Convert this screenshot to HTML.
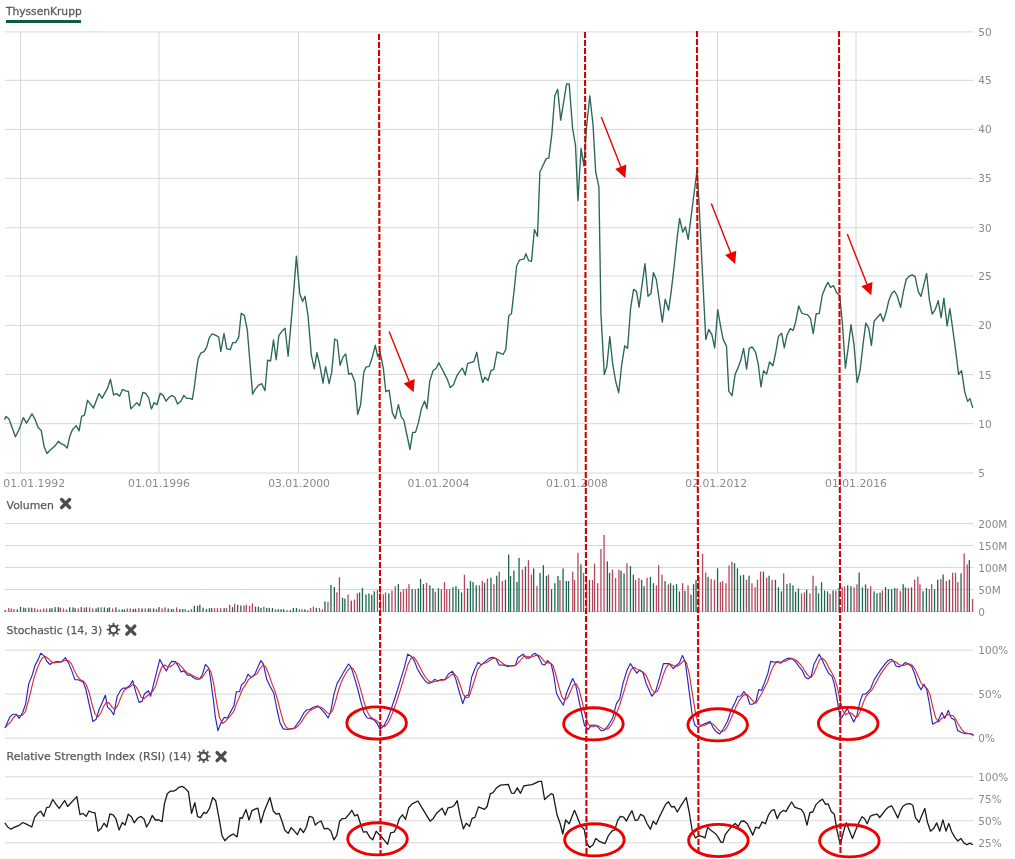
<!DOCTYPE html>
<html><head><meta charset="utf-8"><title>ThyssenKrupp</title>
<style>
html,body{margin:0;padding:0;background:#fff;}
body{width:1015px;height:859px;overflow:hidden;position:relative;font-family:"DejaVu Sans", "Liberation Sans", sans-serif;}
.uline{position:absolute;left:6px;top:20px;width:75px;height:3px;background:#0e5b45;}
svg text{-webkit-font-smoothing:antialiased;}
svg{position:absolute;left:0;top:0;will-change:transform;}
.ax{font-size:10.5px;fill:#8a8a8a;font-family:"DejaVu Sans", "Liberation Sans", sans-serif;}
.tt{font-size:11px;fill:#5a5a5a;stroke:#5a5a5a;stroke-width:0.3px;font-family:"DejaVu Sans", "Liberation Sans", sans-serif;}
.pl{font-size:10.5px;fill:#5a5a5a;stroke:#5a5a5a;stroke-width:0.25px;font-family:"DejaVu Sans", "Liberation Sans", sans-serif;}
</style></head>
<body>
<div class="uline"></div>
<svg width="1015" height="859" viewBox="0 0 1015 859">
<line x1="5" y1="31.9" x2="973.5" y2="31.9" stroke="#d8d8d8" stroke-width="1"/>
<line x1="5" y1="80.3" x2="973.5" y2="80.3" stroke="#d8d8d8" stroke-width="1"/>
<line x1="5" y1="129.4" x2="973.5" y2="129.4" stroke="#d8d8d8" stroke-width="1"/>
<line x1="5" y1="178.4" x2="973.5" y2="178.4" stroke="#d8d8d8" stroke-width="1"/>
<line x1="5" y1="227.7" x2="973.5" y2="227.7" stroke="#d8d8d8" stroke-width="1"/>
<line x1="5" y1="275.9" x2="973.5" y2="275.9" stroke="#d8d8d8" stroke-width="1"/>
<line x1="5" y1="325.4" x2="973.5" y2="325.4" stroke="#d8d8d8" stroke-width="1"/>
<line x1="5" y1="374.5" x2="973.5" y2="374.5" stroke="#d8d8d8" stroke-width="1"/>
<line x1="5" y1="423.7" x2="973.5" y2="423.7" stroke="#d8d8d8" stroke-width="1"/>
<line x1="5" y1="473.0" x2="973.5" y2="473.0" stroke="#d8d8d8" stroke-width="1"/>
<line x1="20.5" y1="32" x2="20.5" y2="473" stroke="#d8d8d8" stroke-width="1"/>
<line x1="159.0" y1="32" x2="159.0" y2="473" stroke="#d8d8d8" stroke-width="1"/>
<line x1="298.5" y1="32" x2="298.5" y2="473" stroke="#d8d8d8" stroke-width="1"/>
<line x1="438.6" y1="32" x2="438.6" y2="473" stroke="#d8d8d8" stroke-width="1"/>
<line x1="577.5" y1="32" x2="577.5" y2="473" stroke="#d8d8d8" stroke-width="1"/>
<line x1="717.5" y1="32" x2="717.5" y2="473" stroke="#d8d8d8" stroke-width="1"/>
<line x1="856.0" y1="32" x2="856.0" y2="473" stroke="#d8d8d8" stroke-width="1"/>
<text x="978.3" y="35.9" class="ax">50</text>
<text x="978.3" y="84.3" class="ax">45</text>
<text x="978.3" y="133.4" class="ax">40</text>
<text x="978.3" y="182.4" class="ax">35</text>
<text x="978.3" y="231.7" class="ax">30</text>
<text x="978.3" y="279.9" class="ax">25</text>
<text x="978.3" y="329.4" class="ax">20</text>
<text x="978.3" y="378.5" class="ax">15</text>
<text x="978.3" y="427.7" class="ax">10</text>
<text x="978.3" y="477.0" class="ax">5</text>
<text x="3.3" y="487" class="ax" textLength="61.8" lengthAdjust="spacingAndGlyphs">01.01.1992</text>
<text x="128.1" y="487" class="ax" textLength="61.8" lengthAdjust="spacingAndGlyphs">01.01.1996</text>
<text x="268.2" y="487" class="ax" textLength="61.8" lengthAdjust="spacingAndGlyphs">03.01.2000</text>
<text x="407.6" y="487" class="ax" textLength="61.8" lengthAdjust="spacingAndGlyphs">01.01.2004</text>
<text x="546.1" y="487" class="ax" textLength="61.8" lengthAdjust="spacingAndGlyphs">01.01.2008</text>
<text x="685.3" y="487" class="ax" textLength="61.8" lengthAdjust="spacingAndGlyphs">02.01.2012</text>
<text x="825.1" y="487" class="ax" textLength="61.8" lengthAdjust="spacingAndGlyphs">01.01.2016</text>
<line x1="5" y1="523.5" x2="973.5" y2="523.5" stroke="#d8d8d8" stroke-width="1"/>
<line x1="5" y1="545.5" x2="973.5" y2="545.5" stroke="#d8d8d8" stroke-width="1"/>
<line x1="5" y1="567.5" x2="973.5" y2="567.5" stroke="#d8d8d8" stroke-width="1"/>
<line x1="5" y1="589.5" x2="973.5" y2="589.5" stroke="#d8d8d8" stroke-width="1"/>
<line x1="5" y1="611.5" x2="973.5" y2="611.5" stroke="#d8d8d8" stroke-width="1"/>
<text x="978.3" y="527.5" class="ax">200M</text>
<text x="978.3" y="549.5" class="ax">150M</text>
<text x="978.3" y="571.5" class="ax">100M</text>
<text x="978.3" y="593.5" class="ax">50M</text>
<text x="978.3" y="615.5" class="ax">0</text>
<line x1="5" y1="650.1" x2="973.5" y2="650.1" stroke="#d8d8d8" stroke-width="1"/>
<line x1="5" y1="694.1" x2="973.5" y2="694.1" stroke="#d8d8d8" stroke-width="1"/>
<line x1="5" y1="738.1" x2="973.5" y2="738.1" stroke="#d8d8d8" stroke-width="1"/>
<text x="978.3" y="654.1" class="ax">100%</text>
<text x="978.3" y="698.1" class="ax">50%</text>
<text x="978.3" y="742.1" class="ax">0%</text>
<line x1="5" y1="776.8" x2="973.5" y2="776.8" stroke="#d8d8d8" stroke-width="1"/>
<line x1="5" y1="798.8" x2="973.5" y2="798.8" stroke="#d8d8d8" stroke-width="1"/>
<line x1="5" y1="820.7" x2="973.5" y2="820.7" stroke="#d8d8d8" stroke-width="1"/>
<line x1="5" y1="842.8" x2="973.5" y2="842.8" stroke="#d8d8d8" stroke-width="1"/>
<text x="978.3" y="780.8" class="ax">100%</text>
<text x="978.3" y="802.8" class="ax">75%</text>
<text x="978.3" y="824.7" class="ax">50%</text>
<text x="978.3" y="846.8" class="ax">25%</text>
<g><rect x="4.5" y="610.0" width="1.3" height="1.9" fill="#1f6550"/><rect x="8.1" y="608.1" width="1.3" height="3.8" fill="#b8475e"/><rect x="10.6" y="608.4" width="1.3" height="3.5" fill="#b8475e"/><rect x="13.2" y="609.0" width="1.3" height="2.9" fill="#b8475e"/><rect x="16.7" y="609.3" width="1.3" height="2.6" fill="#1f6550"/><rect x="19.9" y="606.8" width="1.3" height="5.1" fill="#1f6550"/><rect x="23.1" y="607.7" width="1.3" height="4.2" fill="#1f6550"/><rect x="25.0" y="608.1" width="1.3" height="3.8" fill="#b8475e"/><rect x="28.2" y="607.7" width="1.3" height="4.2" fill="#1f6550"/><rect x="31.1" y="607.7" width="1.3" height="4.2" fill="#1f6550"/><rect x="34.0" y="608.1" width="1.3" height="3.8" fill="#b8475e"/><rect x="36.9" y="609.3" width="1.3" height="2.6" fill="#b8475e"/><rect x="39.8" y="609.3" width="1.3" height="2.6" fill="#b8475e"/><rect x="43.0" y="608.4" width="1.3" height="3.5" fill="#b8475e"/><rect x="45.9" y="608.4" width="1.3" height="3.5" fill="#b8475e"/><rect x="49.1" y="608.4" width="1.3" height="3.5" fill="#1f6550"/><rect x="51.3" y="608.1" width="1.3" height="3.8" fill="#1f6550"/><rect x="54.5" y="607.1" width="1.3" height="4.8" fill="#1f6550"/><rect x="57.7" y="607.1" width="1.3" height="4.8" fill="#1f6550"/><rect x="59.7" y="607.7" width="1.3" height="4.2" fill="#b8475e"/><rect x="62.8" y="608.4" width="1.3" height="3.5" fill="#b8475e"/><rect x="65.9" y="609.3" width="1.3" height="2.6" fill="#b8475e"/><rect x="69.0" y="607.4" width="1.3" height="4.5" fill="#1f6550"/><rect x="72.3" y="607.4" width="1.3" height="4.5" fill="#1f6550"/><rect x="74.5" y="608.1" width="1.3" height="3.8" fill="#1f6550"/><rect x="77.7" y="608.4" width="1.3" height="3.5" fill="#b8475e"/><rect x="80.6" y="607.1" width="1.3" height="4.8" fill="#1f6550"/><rect x="83.7" y="607.7" width="1.3" height="4.2" fill="#b8475e"/><rect x="85.8" y="607.4" width="1.3" height="4.5" fill="#1f6550"/><rect x="89.0" y="607.4" width="1.3" height="4.5" fill="#b8475e"/><rect x="92.0" y="608.4" width="1.3" height="3.5" fill="#b8475e"/><rect x="95.4" y="608.4" width="1.3" height="3.5" fill="#1f6550"/><rect x="97.6" y="607.4" width="1.3" height="4.5" fill="#1f6550"/><rect x="100.5" y="607.4" width="1.3" height="4.5" fill="#b8475e"/><rect x="103.7" y="607.4" width="1.3" height="4.5" fill="#1f6550"/><rect x="106.9" y="608.1" width="1.3" height="3.8" fill="#1f6550"/><rect x="108.8" y="607.4" width="1.3" height="4.5" fill="#1f6550"/><rect x="112.0" y="608.4" width="1.3" height="3.5" fill="#b8475e"/><rect x="115.2" y="607.4" width="1.3" height="4.5" fill="#1f6550"/><rect x="118.5" y="609.3" width="1.3" height="2.6" fill="#b8475e"/><rect x="121.7" y="609.3" width="1.3" height="2.6" fill="#1f6550"/><rect x="123.8" y="609.5" width="1.3" height="2.4" fill="#1f6550"/><rect x="126.6" y="608.4" width="1.3" height="3.5" fill="#b8475e"/><rect x="129.5" y="608.4" width="1.3" height="3.5" fill="#b8475e"/><rect x="132.7" y="609.0" width="1.3" height="2.9" fill="#1f6550"/><rect x="134.9" y="608.7" width="1.3" height="3.2" fill="#1f6550"/><rect x="138.1" y="608.1" width="1.3" height="3.8" fill="#b8475e"/><rect x="141.4" y="608.4" width="1.3" height="3.5" fill="#1f6550"/><rect x="144.6" y="608.4" width="1.3" height="3.5" fill="#b8475e"/><rect x="147.8" y="608.4" width="1.3" height="3.5" fill="#1f6550"/><rect x="149.7" y="608.4" width="1.3" height="3.5" fill="#b8475e"/><rect x="152.9" y="608.4" width="1.3" height="3.5" fill="#1f6550"/><rect x="155.8" y="609.0" width="1.3" height="2.9" fill="#b8475e"/><rect x="158.3" y="607.1" width="1.3" height="4.8" fill="#1f6550"/><rect x="161.5" y="608.4" width="1.3" height="3.5" fill="#b8475e"/><rect x="164.4" y="607.4" width="1.3" height="4.5" fill="#b8475e"/><rect x="167.6" y="608.4" width="1.3" height="3.5" fill="#1f6550"/><rect x="170.8" y="609.0" width="1.3" height="2.9" fill="#1f6550"/><rect x="172.8" y="609.0" width="1.3" height="2.9" fill="#b8475e"/><rect x="176.0" y="607.4" width="1.3" height="4.5" fill="#b8475e"/><rect x="179.2" y="609.0" width="1.3" height="2.9" fill="#1f6550"/><rect x="182.1" y="609.0" width="1.3" height="2.9" fill="#1f6550"/><rect x="184.6" y="609.0" width="1.3" height="2.9" fill="#b8475e"/><rect x="187.8" y="610.4" width="1.3" height="1.5" fill="#1f6550"/><rect x="190.8" y="609.0" width="1.3" height="2.9" fill="#b8475e"/><rect x="193.7" y="605.8" width="1.3" height="6.1" fill="#1f6550"/><rect x="196.9" y="605.8" width="1.3" height="6.1" fill="#1f6550"/><rect x="199.2" y="604.8" width="1.3" height="7.1" fill="#1f6550"/><rect x="202.4" y="607.7" width="1.3" height="4.2" fill="#1f6550"/><rect x="205.8" y="609.0" width="1.3" height="2.9" fill="#1f6550"/><rect x="208.8" y="608.1" width="1.3" height="3.8" fill="#1f6550"/><rect x="211.0" y="608.1" width="1.3" height="3.8" fill="#1f6550"/><rect x="213.9" y="608.1" width="1.3" height="3.8" fill="#b8475e"/><rect x="216.8" y="608.1" width="1.3" height="3.8" fill="#b8475e"/><rect x="220.0" y="608.1" width="1.3" height="3.8" fill="#b8475e"/><rect x="223.5" y="608.1" width="1.3" height="3.8" fill="#1f6550"/><rect x="225.8" y="608.1" width="1.3" height="3.8" fill="#b8475e"/><rect x="229.0" y="604.8" width="1.3" height="7.1" fill="#b8475e"/><rect x="231.9" y="607.1" width="1.3" height="4.8" fill="#1f6550"/><rect x="234.0" y="603.9" width="1.3" height="8.0" fill="#b8475e"/><rect x="237.0" y="604.8" width="1.3" height="7.1" fill="#1f6550"/><rect x="240.2" y="605.5" width="1.3" height="6.4" fill="#1f6550"/><rect x="243.4" y="605.5" width="1.3" height="6.4" fill="#b8475e"/><rect x="245.7" y="604.8" width="1.3" height="7.1" fill="#b8475e"/><rect x="248.9" y="605.8" width="1.3" height="6.1" fill="#b8475e"/><rect x="251.7" y="603.4" width="1.3" height="8.5" fill="#b8475e"/><rect x="254.8" y="606.6" width="1.3" height="5.3" fill="#1f6550"/><rect x="257.7" y="606.6" width="1.3" height="5.3" fill="#1f6550"/><rect x="260.3" y="607.9" width="1.3" height="4.0" fill="#1f6550"/><rect x="263.2" y="606.6" width="1.3" height="5.3" fill="#b8475e"/><rect x="266.0" y="607.9" width="1.3" height="4.0" fill="#1f6550"/><rect x="268.6" y="607.9" width="1.3" height="4.0" fill="#1f6550"/><rect x="271.8" y="607.9" width="1.3" height="4.0" fill="#1f6550"/><rect x="274.8" y="609.2" width="1.3" height="2.7" fill="#b8475e"/><rect x="277.6" y="609.2" width="1.3" height="2.7" fill="#1f6550"/><rect x="280.4" y="609.2" width="1.3" height="2.7" fill="#1f6550"/><rect x="283.0" y="609.2" width="1.3" height="2.7" fill="#1f6550"/><rect x="286.3" y="610.1" width="1.3" height="1.8" fill="#b8475e"/><rect x="289.7" y="610.1" width="1.3" height="1.8" fill="#1f6550"/><rect x="292.7" y="607.9" width="1.3" height="4.0" fill="#1f6550"/><rect x="295.8" y="607.9" width="1.3" height="4.0" fill="#1f6550"/><rect x="298.7" y="609.2" width="1.3" height="2.7" fill="#b8475e"/><rect x="301.3" y="609.2" width="1.3" height="2.7" fill="#b8475e"/><rect x="304.2" y="609.2" width="1.3" height="2.7" fill="#1f6550"/><rect x="307.0" y="610.1" width="1.3" height="1.8" fill="#b8475e"/><rect x="309.9" y="607.9" width="1.3" height="4.0" fill="#b8475e"/><rect x="312.8" y="606.6" width="1.3" height="5.3" fill="#b8475e"/><rect x="315.7" y="607.9" width="1.3" height="4.0" fill="#1f6550"/><rect x="318.8" y="607.9" width="1.3" height="4.0" fill="#b8475e"/><rect x="321.8" y="609.2" width="1.3" height="2.7" fill="#b8475e"/><rect x="324.3" y="601.5" width="1.3" height="10.4" fill="#1f6550"/><rect x="327.3" y="601.9" width="1.3" height="10.0" fill="#b8475e"/><rect x="330.3" y="584.9" width="1.3" height="27.0" fill="#1f6550"/><rect x="333.7" y="587.0" width="1.3" height="24.9" fill="#1f6550"/><rect x="336.2" y="592.2" width="1.3" height="19.7" fill="#b8475e"/><rect x="338.8" y="577.2" width="1.3" height="34.7" fill="#b8475e"/><rect x="341.9" y="597.7" width="1.3" height="14.2" fill="#1f6550"/><rect x="344.2" y="598.6" width="1.3" height="13.3" fill="#1f6550"/><rect x="347.4" y="594.5" width="1.3" height="17.4" fill="#b8475e"/><rect x="350.6" y="600.6" width="1.3" height="11.3" fill="#1f6550"/><rect x="353.8" y="599.6" width="1.3" height="12.3" fill="#b8475e"/><rect x="356.7" y="593.4" width="1.3" height="18.5" fill="#b8475e"/><rect x="358.9" y="592.5" width="1.3" height="19.4" fill="#1f6550"/><rect x="361.8" y="588.1" width="1.3" height="23.8" fill="#1f6550"/><rect x="365.3" y="594.5" width="1.3" height="17.4" fill="#1f6550"/><rect x="368.3" y="593.4" width="1.3" height="18.5" fill="#1f6550"/><rect x="371.1" y="594.7" width="1.3" height="17.2" fill="#1f6550"/><rect x="373.6" y="591.3" width="1.3" height="20.6" fill="#1f6550"/><rect x="376.8" y="590.0" width="1.3" height="21.9" fill="#b8475e"/><rect x="379.7" y="592.0" width="1.3" height="19.9" fill="#b8475e"/><rect x="382.7" y="594.3" width="1.3" height="17.6" fill="#b8475e"/><rect x="384.9" y="592.4" width="1.3" height="19.5" fill="#b8475e"/><rect x="388.2" y="593.4" width="1.3" height="18.5" fill="#1f6550"/><rect x="391.3" y="590.5" width="1.3" height="21.4" fill="#b8475e"/><rect x="394.6" y="586.2" width="1.3" height="25.7" fill="#b8475e"/><rect x="397.7" y="584.1" width="1.3" height="27.8" fill="#1f6550"/><rect x="400.0" y="591.7" width="1.3" height="20.2" fill="#b8475e"/><rect x="402.8" y="589.2" width="1.3" height="22.7" fill="#b8475e"/><rect x="405.8" y="588.5" width="1.3" height="23.4" fill="#b8475e"/><rect x="408.3" y="584.1" width="1.3" height="27.8" fill="#b8475e"/><rect x="411.5" y="589.2" width="1.3" height="22.7" fill="#1f6550"/><rect x="414.7" y="589.2" width="1.3" height="22.7" fill="#b8475e"/><rect x="417.7" y="588.5" width="1.3" height="23.4" fill="#1f6550"/><rect x="419.9" y="578.9" width="1.3" height="33.0" fill="#1f6550"/><rect x="422.8" y="584.1" width="1.3" height="27.8" fill="#1f6550"/><rect x="425.9" y="582.8" width="1.3" height="29.1" fill="#b8475e"/><rect x="429.2" y="585.3" width="1.3" height="26.6" fill="#1f6550"/><rect x="432.3" y="588.3" width="1.3" height="23.6" fill="#1f6550"/><rect x="434.6" y="591.7" width="1.3" height="20.2" fill="#b8475e"/><rect x="437.8" y="588.3" width="1.3" height="23.6" fill="#1f6550"/><rect x="440.7" y="589.2" width="1.3" height="22.7" fill="#b8475e"/><rect x="443.8" y="582.1" width="1.3" height="29.8" fill="#b8475e"/><rect x="446.1" y="589.2" width="1.3" height="22.7" fill="#b8475e"/><rect x="448.9" y="589.2" width="1.3" height="22.7" fill="#b8475e"/><rect x="452.3" y="587.3" width="1.3" height="24.6" fill="#1f6550"/><rect x="455.3" y="586.2" width="1.3" height="25.7" fill="#1f6550"/><rect x="457.9" y="589.2" width="1.3" height="22.7" fill="#1f6550"/><rect x="460.9" y="592.4" width="1.3" height="19.5" fill="#1f6550"/><rect x="463.8" y="574.7" width="1.3" height="37.2" fill="#b8475e"/><rect x="466.9" y="588.5" width="1.3" height="23.4" fill="#1f6550"/><rect x="469.8" y="580.9" width="1.3" height="31.0" fill="#1f6550"/><rect x="472.4" y="582.1" width="1.3" height="29.8" fill="#1f6550"/><rect x="475.6" y="585.3" width="1.3" height="26.6" fill="#1f6550"/><rect x="478.8" y="585.3" width="1.3" height="26.6" fill="#b8475e"/><rect x="481.7" y="580.9" width="1.3" height="31.0" fill="#b8475e"/><rect x="483.9" y="582.8" width="1.3" height="29.1" fill="#1f6550"/><rect x="486.8" y="578.6" width="1.3" height="33.3" fill="#b8475e"/><rect x="490.3" y="577.7" width="1.3" height="34.2" fill="#1f6550"/><rect x="493.3" y="584.1" width="1.3" height="27.8" fill="#b8475e"/><rect x="496.1" y="575.7" width="1.3" height="36.2" fill="#1f6550"/><rect x="498.6" y="571.6" width="1.3" height="40.3" fill="#b8475e"/><rect x="501.7" y="581.0" width="1.3" height="30.9" fill="#b8475e"/><rect x="504.8" y="579.7" width="1.3" height="32.2" fill="#1f6550"/><rect x="508.0" y="554.6" width="1.3" height="57.3" fill="#1f6550"/><rect x="509.9" y="575.9" width="1.3" height="36.0" fill="#1f6550"/><rect x="513.2" y="570.7" width="1.3" height="41.2" fill="#1f6550"/><rect x="516.3" y="581.9" width="1.3" height="30.0" fill="#1f6550"/><rect x="518.4" y="557.9" width="1.3" height="54.0" fill="#1f6550"/><rect x="521.8" y="569.4" width="1.3" height="42.5" fill="#b8475e"/><rect x="524.8" y="566.5" width="1.3" height="45.4" fill="#1f6550"/><rect x="527.8" y="560.1" width="1.3" height="51.8" fill="#b8475e"/><rect x="530.8" y="574.6" width="1.3" height="37.3" fill="#b8475e"/><rect x="533.0" y="568.4" width="1.3" height="43.5" fill="#1f6550"/><rect x="536.3" y="586.1" width="1.3" height="25.8" fill="#b8475e"/><rect x="539.4" y="572.9" width="1.3" height="39.0" fill="#1f6550"/><rect x="542.7" y="565.2" width="1.3" height="46.7" fill="#1f6550"/><rect x="545.8" y="575.9" width="1.3" height="36.0" fill="#1f6550"/><rect x="547.8" y="574.6" width="1.3" height="37.3" fill="#b8475e"/><rect x="550.9" y="589.2" width="1.3" height="22.7" fill="#1f6550"/><rect x="554.2" y="583.2" width="1.3" height="28.7" fill="#1f6550"/><rect x="557.3" y="575.9" width="1.3" height="36.0" fill="#1f6550"/><rect x="559.3" y="580.2" width="1.3" height="31.7" fill="#b8475e"/><rect x="562.4" y="568.4" width="1.3" height="43.5" fill="#1f6550"/><rect x="565.7" y="581.0" width="1.3" height="30.9" fill="#1f6550"/><rect x="567.9" y="581.0" width="1.3" height="30.9" fill="#1f6550"/><rect x="572.1" y="571.6" width="1.3" height="40.3" fill="#b8475e"/><rect x="573.9" y="580.0" width="1.3" height="31.9" fill="#b8475e"/><rect x="577.3" y="552.8" width="1.3" height="59.1" fill="#b8475e"/><rect x="580.3" y="564.3" width="1.3" height="47.6" fill="#1f6550"/><rect x="582.9" y="572.9" width="1.3" height="39.0" fill="#b8475e"/><rect x="585.8" y="576.0" width="1.3" height="35.9" fill="#b8475e"/><rect x="588.8" y="580.0" width="1.3" height="31.9" fill="#1f6550"/><rect x="591.9" y="580.0" width="1.3" height="31.9" fill="#b8475e"/><rect x="593.9" y="563.6" width="1.3" height="48.3" fill="#b8475e"/><rect x="597.0" y="583.2" width="1.3" height="28.7" fill="#b8475e"/><rect x="600.3" y="549.0" width="1.3" height="62.9" fill="#b8475e"/><rect x="603.4" y="534.9" width="1.3" height="77.0" fill="#b8475e"/><rect x="606.7" y="561.4" width="1.3" height="50.5" fill="#1f6550"/><rect x="608.9" y="572.9" width="1.3" height="39.0" fill="#1f6550"/><rect x="611.8" y="569.7" width="1.3" height="42.2" fill="#b8475e"/><rect x="614.9" y="578.0" width="1.3" height="33.9" fill="#b8475e"/><rect x="618.3" y="569.7" width="1.3" height="42.2" fill="#b8475e"/><rect x="620.4" y="570.7" width="1.3" height="41.2" fill="#1f6550"/><rect x="623.4" y="573.5" width="1.3" height="38.4" fill="#1f6550"/><rect x="626.3" y="563.2" width="1.3" height="48.7" fill="#b8475e"/><rect x="629.8" y="566.1" width="1.3" height="45.8" fill="#1f6550"/><rect x="632.7" y="574.7" width="1.3" height="37.2" fill="#1f6550"/><rect x="634.9" y="579.8" width="1.3" height="32.1" fill="#b8475e"/><rect x="638.2" y="578.0" width="1.3" height="33.9" fill="#b8475e"/><rect x="641.0" y="579.8" width="1.3" height="32.1" fill="#1f6550"/><rect x="643.4" y="586.2" width="1.3" height="25.7" fill="#1f6550"/><rect x="646.4" y="577.7" width="1.3" height="34.2" fill="#b8475e"/><rect x="649.8" y="576.8" width="1.3" height="35.1" fill="#1f6550"/><rect x="652.8" y="583.2" width="1.3" height="28.7" fill="#1f6550"/><rect x="655.8" y="585.3" width="1.3" height="26.6" fill="#b8475e"/><rect x="658.0" y="565.2" width="1.3" height="46.7" fill="#b8475e"/><rect x="661.3" y="574.7" width="1.3" height="37.2" fill="#b8475e"/><rect x="664.4" y="581.1" width="1.3" height="30.8" fill="#1f6550"/><rect x="667.7" y="584.4" width="1.3" height="27.5" fill="#b8475e"/><rect x="669.9" y="583.2" width="1.3" height="28.7" fill="#1f6550"/><rect x="672.8" y="585.3" width="1.3" height="26.6" fill="#1f6550"/><rect x="675.9" y="584.1" width="1.3" height="27.8" fill="#1f6550"/><rect x="678.8" y="591.4" width="1.3" height="20.5" fill="#1f6550"/><rect x="682.0" y="583.2" width="1.3" height="28.7" fill="#b8475e"/><rect x="684.3" y="590.9" width="1.3" height="21.0" fill="#1f6550"/><rect x="687.4" y="585.3" width="1.3" height="26.6" fill="#b8475e"/><rect x="690.4" y="594.7" width="1.3" height="17.2" fill="#1f6550"/><rect x="692.9" y="584.1" width="1.3" height="27.8" fill="#1f6550"/><rect x="695.4" y="580.0" width="1.3" height="31.9" fill="#1f6550"/><rect x="698.3" y="576.4" width="1.3" height="35.5" fill="#b8475e"/><rect x="701.9" y="553.7" width="1.3" height="58.2" fill="#b8475e"/><rect x="705.1" y="572.5" width="1.3" height="39.4" fill="#b8475e"/><rect x="707.4" y="576.8" width="1.3" height="35.1" fill="#1f6550"/><rect x="710.5" y="578.9" width="1.3" height="33.0" fill="#b8475e"/><rect x="713.8" y="579.8" width="1.3" height="32.1" fill="#b8475e"/><rect x="716.9" y="568.3" width="1.3" height="43.6" fill="#1f6550"/><rect x="719.8" y="582.1" width="1.3" height="29.8" fill="#b8475e"/><rect x="722.0" y="581.1" width="1.3" height="30.8" fill="#b8475e"/><rect x="725.3" y="583.2" width="1.3" height="28.7" fill="#b8475e"/><rect x="728.4" y="565.5" width="1.3" height="46.4" fill="#b8475e"/><rect x="731.3" y="561.9" width="1.3" height="50.0" fill="#b8475e"/><rect x="733.9" y="563.2" width="1.3" height="48.7" fill="#1f6550"/><rect x="736.8" y="568.3" width="1.3" height="43.6" fill="#1f6550"/><rect x="739.9" y="575.5" width="1.3" height="36.4" fill="#1f6550"/><rect x="742.9" y="574.7" width="1.3" height="37.2" fill="#1f6550"/><rect x="745.8" y="579.8" width="1.3" height="32.1" fill="#b8475e"/><rect x="748.4" y="575.7" width="1.3" height="36.2" fill="#1f6550"/><rect x="751.3" y="583.2" width="1.3" height="28.7" fill="#b8475e"/><rect x="754.5" y="587.3" width="1.3" height="24.6" fill="#b8475e"/><rect x="756.8" y="579.8" width="1.3" height="32.1" fill="#b8475e"/><rect x="759.9" y="571.6" width="1.3" height="40.3" fill="#b8475e"/><rect x="762.8" y="571.6" width="1.3" height="40.3" fill="#1f6550"/><rect x="766.0" y="577.7" width="1.3" height="34.2" fill="#b8475e"/><rect x="768.4" y="575.7" width="1.3" height="36.2" fill="#1f6550"/><rect x="771.4" y="579.8" width="1.3" height="32.1" fill="#b8475e"/><rect x="774.8" y="579.8" width="1.3" height="32.1" fill="#1f6550"/><rect x="777.8" y="587.3" width="1.3" height="24.6" fill="#1f6550"/><rect x="780.8" y="591.4" width="1.3" height="20.5" fill="#1f6550"/><rect x="783.0" y="573.4" width="1.3" height="38.5" fill="#b8475e"/><rect x="786.3" y="584.1" width="1.3" height="27.8" fill="#1f6550"/><rect x="789.4" y="583.2" width="1.3" height="28.7" fill="#1f6550"/><rect x="792.3" y="585.3" width="1.3" height="26.6" fill="#1f6550"/><rect x="794.9" y="591.7" width="1.3" height="20.2" fill="#1f6550"/><rect x="797.8" y="588.5" width="1.3" height="23.4" fill="#1f6550"/><rect x="800.9" y="593.4" width="1.3" height="18.5" fill="#b8475e"/><rect x="803.8" y="592.4" width="1.3" height="19.5" fill="#b8475e"/><rect x="806.0" y="589.6" width="1.3" height="22.3" fill="#1f6550"/><rect x="809.3" y="593.4" width="1.3" height="18.5" fill="#b8475e"/><rect x="812.4" y="575.7" width="1.3" height="36.2" fill="#b8475e"/><rect x="815.4" y="586.2" width="1.3" height="25.7" fill="#1f6550"/><rect x="817.9" y="593.4" width="1.3" height="18.5" fill="#1f6550"/><rect x="820.9" y="582.1" width="1.3" height="29.8" fill="#1f6550"/><rect x="823.9" y="590.5" width="1.3" height="21.4" fill="#1f6550"/><rect x="826.9" y="591.4" width="1.3" height="20.5" fill="#1f6550"/><rect x="829.4" y="593.7" width="1.3" height="18.2" fill="#b8475e"/><rect x="832.4" y="590.5" width="1.3" height="21.4" fill="#1f6550"/><rect x="835.2" y="590.5" width="1.3" height="21.4" fill="#b8475e"/><rect x="838.4" y="588.0" width="1.3" height="23.9" fill="#1f6550"/><rect x="841.6" y="587.3" width="1.3" height="24.6" fill="#b8475e"/><rect x="843.9" y="586.2" width="1.3" height="25.7" fill="#b8475e"/><rect x="847.0" y="585.3" width="1.3" height="26.6" fill="#1f6550"/><rect x="850.3" y="586.2" width="1.3" height="25.7" fill="#1f6550"/><rect x="853.4" y="587.3" width="1.3" height="24.6" fill="#b8475e"/><rect x="856.3" y="584.4" width="1.3" height="27.5" fill="#b8475e"/><rect x="858.5" y="572.5" width="1.3" height="39.4" fill="#1f6550"/><rect x="861.8" y="587.3" width="1.3" height="24.6" fill="#1f6550"/><rect x="864.9" y="584.4" width="1.3" height="27.5" fill="#1f6550"/><rect x="867.0" y="588.5" width="1.3" height="23.4" fill="#b8475e"/><rect x="870.0" y="586.2" width="1.3" height="25.7" fill="#b8475e"/><rect x="873.4" y="591.4" width="1.3" height="20.5" fill="#1f6550"/><rect x="876.3" y="593.3" width="1.3" height="18.6" fill="#1f6550"/><rect x="879.4" y="592.6" width="1.3" height="19.3" fill="#1f6550"/><rect x="881.7" y="590.5" width="1.3" height="21.4" fill="#b8475e"/><rect x="884.9" y="587.1" width="1.3" height="24.8" fill="#1f6550"/><rect x="887.8" y="589.2" width="1.3" height="22.7" fill="#1f6550"/><rect x="891.0" y="589.2" width="1.3" height="22.7" fill="#1f6550"/><rect x="894.1" y="588.1" width="1.3" height="23.8" fill="#1f6550"/><rect x="896.4" y="588.4" width="1.3" height="23.5" fill="#b8475e"/><rect x="899.6" y="591.2" width="1.3" height="20.7" fill="#b8475e"/><rect x="902.5" y="584.2" width="1.3" height="27.7" fill="#1f6550"/><rect x="904.8" y="587.4" width="1.3" height="24.5" fill="#1f6550"/><rect x="907.7" y="588.1" width="1.3" height="23.8" fill="#b8475e"/><rect x="910.9" y="587.4" width="1.3" height="24.5" fill="#1f6550"/><rect x="914.0" y="579.7" width="1.3" height="32.2" fill="#b8475e"/><rect x="917.2" y="576.6" width="1.3" height="35.3" fill="#b8475e"/><rect x="919.3" y="584.2" width="1.3" height="27.7" fill="#b8475e"/><rect x="922.4" y="591.2" width="1.3" height="20.7" fill="#1f6550"/><rect x="925.8" y="588.1" width="1.3" height="23.8" fill="#1f6550"/><rect x="928.7" y="589.2" width="1.3" height="22.7" fill="#b8475e"/><rect x="931.0" y="584.2" width="1.3" height="27.7" fill="#b8475e"/><rect x="933.9" y="589.2" width="1.3" height="22.7" fill="#1f6550"/><rect x="937.1" y="579.7" width="1.3" height="32.2" fill="#1f6550"/><rect x="940.2" y="579.0" width="1.3" height="32.9" fill="#b8475e"/><rect x="942.5" y="574.5" width="1.3" height="37.4" fill="#1f6550"/><rect x="945.7" y="581.1" width="1.3" height="30.8" fill="#b8475e"/><rect x="948.8" y="579.7" width="1.3" height="32.2" fill="#1f6550"/><rect x="952.0" y="572.7" width="1.3" height="39.2" fill="#b8475e"/><rect x="954.9" y="572.7" width="1.3" height="39.2" fill="#b8475e"/><rect x="957.2" y="582.1" width="1.3" height="29.8" fill="#b8475e"/><rect x="960.4" y="573.4" width="1.3" height="38.5" fill="#1f6550"/><rect x="963.5" y="553.5" width="1.3" height="58.4" fill="#b8475e"/><rect x="966.6" y="564.3" width="1.3" height="47.6" fill="#b8475e"/><rect x="968.7" y="560.1" width="1.3" height="51.8" fill="#1f6550"/><rect x="971.9" y="598.9" width="1.3" height="13.0" fill="#b8475e"/></g>
<polyline points="4.5,419.6 6.1,416.4 9.0,418.9 15.4,436.8 19.2,429.2 23.4,417.6 26.5,423.1 32.0,413.8 35.2,419.6 38.0,427.2 41.2,430.4 44.2,447.1 47.0,453.5 50.0,450.3 55.1,445.8 58.3,441.3 61.5,443.9 64.0,444.9 67.2,448.1 69.8,436.2 72.4,429.8 76.2,425.6 79.1,430.8 81.6,416.4 84.5,415.1 87.5,400.3 93.5,408.0 99.0,393.6 102.1,398.2 107.6,388.2 110.4,379.2 113.6,394.8 116.5,393.6 119.7,396.1 122.5,389.4 125.6,390.8 128.4,391.5 130.9,408.9 136.8,402.6 139.5,405.8 142.8,392.4 145.8,393.5 148.6,397.7 151.4,408.9 154.2,402.6 157.0,404.7 160.2,393.3 163.3,395.6 166.1,401.2 168.9,397.5 171.9,395.4 174.7,397.0 177.5,404.0 181.2,400.8 183.9,395.4 186.7,398.4 189.5,398.4 192.3,399.4 194.0,389.4 196.5,369.8 198.2,358.6 201.0,352.8 204.1,351.7 206.8,346.8 209.4,337.4 212.2,333.8 216.3,335.6 218.7,337.0 220.8,351.4 224.0,333.5 226.8,348.9 230.3,349.6 232.8,342.6 235.6,342.6 238.7,337.4 241.2,313.3 244.3,315.4 247.3,330.0 249.6,358.3 252.6,394.2 254.9,389.8 258.3,385.4 261.8,383.7 265.0,390.7 267.6,360.1 270.6,361.0 273.5,340.0 276.2,359.7 278.8,335.6 281.9,331.3 285.1,328.3 288.1,356.2 291.0,323.4 293.8,290.2 296.4,256.1 299.8,293.7 302.6,301.5 305.0,296.3 308.1,316.4 311.3,354.8 314.3,368.8 316.9,352.7 319.5,363.6 323.0,383.1 325.6,366.7 329.1,383.7 331.7,372.3 334.7,339.1 337.3,340.5 340.1,365.3 343.1,356.9 345.7,354.0 348.7,374.4 351.5,373.2 354.9,381.9 357.7,414.5 360.6,404.7 363.8,372.1 366.0,367.2 369.2,366.4 372.0,358.3 375.3,345.3 377.7,356.7 380.1,351.8 383.4,368.9 385.8,391.7 389.1,390.1 392.4,412.9 395.3,418.6 398.4,404.7 401.3,416.9 403.8,420.2 406.7,434.0 410.0,449.5 412.7,432.4 415.5,432.4 418.4,422.6 421.4,408.8 424.6,401.1 426.9,408.8 429.8,381.1 433.1,370.5 436.0,368.5 438.8,362.7 443.7,372.1 447.4,379.5 450.2,387.6 453.5,384.8 456.7,376.2 459.5,371.8 462.4,368.1 465.2,375.1 467.6,363.7 470.6,362.7 473.8,361.5 476.8,352.3 479.3,367.9 482.7,382.4 484.9,377.2 488.1,380.5 490.9,370.7 493.8,369.4 497.0,352.0 500.7,353.3 503.2,354.5 505.8,349.2 508.8,315.7 511.4,313.8 513.8,293.3 516.6,266.3 519.4,260.2 522.2,259.4 524.0,258.9 525.9,253.8 528.7,260.7 531.5,261.3 534.4,229.5 537.5,236.4 539.9,172.0 546.2,158.6 548.8,158.2 551.8,134.4 554.8,95.8 557.7,89.3 560.7,120.1 563.7,101.7 566.6,83.9 569.2,83.9 572.6,128.5 575.5,145.3 577.9,200.7 581.1,148.3 583.9,166.1 586.4,128.5 589.8,95.8 593.0,124.5 595.7,172.0 598.9,186.9 600.9,313.2 604.3,374.6 606.8,366.6 609.8,336.5 612.8,364.7 615.7,381.5 618.7,392.8 621.7,364.7 624.7,345.8 627.6,348.4 630.6,308.2 633.6,289.4 636.5,291.4 639.1,307.2 641.9,285.8 645.0,263.7 648.0,296.3 651.0,293.4 653.4,272.6 656.3,279.5 659.3,300.3 662.3,322.1 665.2,299.3 668.6,310.2 671.2,291.4 674.2,265.6 677.1,237.9 679.6,218.5 682.7,232.1 685.4,226.9 688.2,239.4 697.0,170.5 699.0,202.4 702.3,270.0 703.8,300.3 705.8,339.6 708.8,329.3 711.8,334.3 714.7,347.9 717.7,309.6 720.4,325.2 723.0,338.9 726.5,346.4 728.8,391.1 732.1,395.6 735.1,374.4 737.8,368.4 740.6,360.8 743.6,348.4 746.6,369.1 749.2,348.4 752.2,346.9 755.7,352.5 758.3,364.6 761.0,386.8 763.6,370.6 766.6,374.1 769.6,361.9 772.9,365.8 775.7,352.5 778.4,336.6 781.7,333.3 784.3,347.9 787.0,335.1 790.3,328.6 793.1,330.5 795.6,322.2 798.7,306.0 801.7,313.1 804.4,314.2 807.4,314.6 810.5,318.4 813.2,333.6 816.2,313.6 819.2,313.6 822.3,295.0 825.3,287.4 827.9,282.4 830.6,287.5 833.6,285.7 836.6,292.5 839.7,295.5 842.4,323.5 845.4,368.1 848.0,349.2 851.0,324.7 854.0,344.7 857.1,382.5 860.1,370.4 863.1,343.9 865.8,323.2 868.7,328.1 871.4,345.4 874.1,321.2 877.2,317.5 880.5,313.7 883.2,321.2 886.1,312.2 888.8,300.5 891.8,293.3 894.4,291.0 897.1,295.5 900.6,307.4 903.4,291.6 906.2,279.5 909.0,276.4 912.1,274.9 915.1,276.7 918.3,291.6 921.0,296.3 926.6,273.4 929.4,300.0 932.2,314.0 935.0,310.2 938.2,300.6 941.1,317.7 943.9,298.1 947.1,326.0 949.9,308.7 952.7,328.8 955.5,349.3 958.6,374.4 961.6,370.7 964.8,392.1 967.6,401.4 970.0,398.6 972.8,407.9" fill="none" stroke="#2a6756" stroke-width="1.35" stroke-linejoin="round"/>
<polyline points="4.9,728.0 9.6,717.4 12.8,714.2 16.0,714.2 19.2,718.3 22.8,712.2 25.6,703.9 28.8,683.4 32.0,675.7 35.2,664.9 38.4,659.1 40.7,653.3 44.2,655.9 46.7,661.0 49.9,664.5 52.5,662.7 56.4,661.6 61.5,661.9 65.3,657.6 68.5,662.9 71.7,670.6 74.9,679.6 78.1,679.8 83.2,682.1 85.8,689.2 89.7,706.5 92.9,721.6 96.1,719.3 99.3,709.0 102.5,702.0 105.3,695.2 107.6,707.1 110.8,710.3 113.7,714.8 117.2,696.2 121.0,689.8 123.6,687.9 125.0,688.5 129.5,686.0 132.7,680.6 135.9,692.4 139.1,702.4 142.3,701.1 144.2,694.3 148.4,690.7 150.6,696.2 153.8,683.4 157.0,670.6 159.8,659.3 163.2,666.1 166.4,670.9 169.2,664.9 171.7,661.4 175.6,661.6 178.2,666.1 181.1,671.9 183.9,670.9 187.5,675.1 190.3,675.1 193.5,677.7 196.7,679.3 199.9,678.9 202.5,674.2 205.4,664.5 208.9,668.1 210.8,680.9 213.4,700.1 215.3,716.7 217.9,730.6 221.1,722.5 224.3,717.4 227.5,718.0 230.7,711.6 233.9,705.8 236.4,691.7 239.6,691.7 241.5,684.7 244.7,682.1 248.0,674.2 251.2,677.7 255.1,673.8 257.7,667.4 260.9,660.6 263.4,664.2 266.6,678.9 269.9,686.0 273.7,693.0 276.9,709.0 280.1,723.1 283.3,728.9 287.8,729.5 294.2,728.0 299.3,721.2 303.8,712.9 307.0,709.7 309.6,709.7 312.8,707.5 317.9,705.8 321.7,709.7 325.6,714.2 328.1,718.0 330.7,711.6 333.9,694.3 337.1,683.4 340.9,677.0 344.8,670.0 348.6,664.0 351.2,667.4 354.4,677.7 357.6,688.5 360.8,701.4 364.0,712.9 367.2,718.0 371.0,718.6 374.9,720.6 377.6,724.4 380.1,729.5 384.0,725.7 387.8,718.0 391.6,707.8 396.1,694.3 400.6,679.6 404.5,666.8 407.7,654.2 411.5,656.5 414.7,661.6 417.3,668.7 421.1,675.1 425.6,681.5 428.8,683.4 432.0,682.1 434.6,679.3 437.8,681.1 441.0,679.6 444.8,679.8 448.6,673.8 452.5,671.3 455.7,678.9 458.9,690.5 462.7,703.7 465.3,696.2 468.5,695.0 471.7,677.0 474.9,668.7 478.1,662.3 481.3,664.9 485.1,661.6 489.0,658.4 492.8,657.2 496.0,658.8 499.2,664.9 503.8,665.2 507.7,666.5 512.2,665.7 515.4,665.2 517.9,657.8 523.1,654.2 526.3,658.1 529.5,658.1 532.7,654.6 535.2,653.3 538.4,656.5 542.3,664.5 544.8,664.9 547.6,660.6 551.2,664.2 553.8,675.7 556.4,693.0 559.6,699.4 563.4,705.2 566.6,693.0 569.8,685.3 572.7,678.6 575.6,684.7 578.1,696.2 581.3,711.6 584.5,725.4 588.4,729.5 590.9,725.4 594.8,725.0 598.0,727.0 601.2,730.8 604.4,730.2 608.2,725.7 612.7,718.0 616.5,703.3 619.7,698.8 623.0,683.4 626.9,670.6 630.4,663.6 633.7,668.7 636.8,673.2 639.7,670.0 642.9,672.5 646.1,683.4 649.3,690.5 651.9,696.2 655.7,691.1 659.6,677.7 663.4,663.6 669.2,663.6 673.4,668.7 676.2,665.5 679.4,662.9 682.4,655.5 685.2,661.6 687.8,680.9 690.3,700.1 692.2,714.8 694.8,725.0 698.0,727.6 701.8,725.0 705.7,723.4 710.2,721.6 713.4,728.2 716.6,732.1 719.8,734.0 723.6,728.2 727.5,721.2 731.3,709.7 734.5,703.9 737.7,696.2 740.9,696.0 743.9,691.7 747.3,696.2 749.9,704.2 752.6,704.2 755.8,702.0 758.7,689.6 761.5,690.5 764.7,682.1 767.9,673.2 770.7,661.4 774.3,662.3 777.5,661.6 780.5,663.2 783.6,660.4 787.1,658.4 791.6,658.4 795.5,661.6 799.3,666.8 802.3,670.6 805.1,677.0 808.3,678.9 811.2,676.4 814.0,664.2 819.2,654.2 822.4,660.4 825.6,667.4 828.8,673.4 832.0,676.4 834.5,684.7 837.7,702.6 840.3,719.3 843.5,714.8 847.3,708.4 850.5,715.2 853.7,722.1 856.9,715.4 860.1,701.4 862.7,694.3 865.9,693.9 870.4,689.2 874.2,679.6 879.7,671.2 884.3,664.8 887.8,660.7 891.3,659.2 893.6,661.3 896.0,666.0 898.9,666.9 902.4,665.0 905.5,662.5 908.8,664.2 911.7,666.5 914.6,673.5 917.5,683.4 921.0,689.8 923.9,684.3 926.8,689.8 929.7,705.5 932.6,724.2 937.9,721.3 941.9,712.5 944.8,718.3 948.3,710.4 951.3,718.1 954.7,720.1 957.7,730.6 961.1,732.3 965.2,733.7 969.3,733.5 973.7,735.6" fill="none" stroke="#2525c4" stroke-width="1.15" stroke-linejoin="round"/>
<polyline points="4.9,728.0 7.8,724.7 10.7,721.9 13.6,717.3 16.5,715.1 19.4,715.7 22.3,715.3 25.2,712.0 28.1,702.0 31.0,690.4 33.9,678.4 36.8,669.8 39.7,662.4 42.6,657.5 45.5,656.4 48.4,658.7 51.3,661.6 54.2,662.9 57.1,662.5 60.0,661.9 62.9,661.3 65.8,660.2 68.7,660.7 71.6,664.1 74.5,670.7 77.4,676.2 80.3,679.7 83.2,680.9 86.1,684.5 89.0,692.0 91.9,703.6 94.8,713.5 97.7,717.1 100.6,713.5 103.5,706.6 106.4,702.2 109.3,703.1 112.2,707.4 115.1,709.5 118.0,704.9 120.9,697.4 123.8,690.9 126.7,688.5 129.6,687.1 132.5,684.8 135.4,685.8 138.3,690.5 141.2,697.3 144.1,698.7 147.0,696.0 149.9,693.7 152.8,691.2 155.7,685.9 158.6,675.8 161.5,667.5 164.4,664.9 167.3,666.5 170.2,666.8 173.1,664.6 176.0,662.4 178.9,663.8 181.8,667.1 184.7,670.3 187.6,672.9 190.5,674.1 193.4,676.0 196.3,677.3 199.2,678.6 202.1,677.7 205.0,673.2 207.9,669.3 210.8,671.3 213.7,683.6 216.6,702.4 219.5,717.6 222.4,723.5 225.3,721.5 228.2,718.2 231.1,715.0 234.0,710.9 236.9,702.6 239.8,696.0 242.7,688.8 245.6,684.9 248.5,679.5 251.4,677.4 254.3,675.6 257.2,673.6 260.1,668.5 263.0,664.9 265.9,667.2 268.8,674.3 271.7,682.9 274.6,690.1 277.5,699.5 280.4,710.9 283.3,721.4 286.2,727.3 289.1,729.1 292.0,729.0 294.9,728.3 297.8,726.3 300.7,723.0 303.6,718.4 306.5,714.0 309.4,711.1 312.3,709.2 315.2,708.1 318.1,706.8 321.0,707.2 323.9,709.1 326.8,712.4 329.7,714.1 332.6,710.5 335.5,701.4 338.4,690.5 341.3,682.1 344.2,676.2 347.1,671.2 350.0,667.8 352.9,668.4 355.8,673.7 358.7,682.7 361.6,693.2 364.5,703.6 367.4,712.0 370.3,716.7 373.2,718.7 376.1,720.2 379.0,723.1 381.9,725.8 384.8,726.4 387.7,723.3 390.6,717.6 393.5,710.3 396.4,702.0 399.3,693.1 402.2,683.8 405.1,674.2 408.0,664.4 410.9,658.3 413.8,656.9 416.7,661.1 419.6,666.6 422.5,672.2 425.4,677.0 428.3,680.5 431.2,682.2 434.1,681.8 437.0,681.0 439.9,680.2 442.8,680.2 445.7,679.4 448.6,677.3 451.5,674.7 454.4,673.9 457.3,677.5 460.2,685.2 463.1,694.1 466.0,697.8 468.9,697.1 471.8,688.5 474.7,679.6 477.6,669.8 480.5,665.6 483.4,663.5 486.3,662.6 489.2,660.7 492.1,658.8 495.0,658.0 497.9,659.4 500.8,661.9 503.7,664.2 506.6,665.4 509.5,665.8 512.4,666.0 515.3,665.7 518.2,662.8 521.1,659.5 524.0,656.2 526.9,656.3 529.8,657.1 532.7,656.8 535.6,655.4 538.5,655.0 541.4,657.7 544.3,661.4 547.2,662.9 550.1,663.0 553.0,665.5 555.9,675.0 558.8,686.5 561.7,696.7 564.6,700.3 567.5,698.0 570.4,691.8 573.3,684.9 576.2,683.7 579.1,689.4 582.0,701.0 584.9,713.8 587.8,723.1 590.7,726.8 593.6,726.6 596.5,725.6 599.4,726.6 602.3,728.4 605.2,729.5 608.1,728.6 611.0,725.3 613.9,720.0 616.8,712.4 619.7,705.0 622.6,695.6 625.5,686.4 628.4,676.0 631.3,669.3 634.2,667.3 637.1,669.1 640.0,670.8 642.9,671.9 645.8,675.0 648.7,681.3 651.6,689.0 654.5,692.5 657.4,691.2 660.3,684.4 663.2,674.9 666.1,667.7 669.0,663.8 671.9,664.7 674.8,665.9 677.7,666.1 680.6,663.8 683.5,660.7 686.4,662.8 689.3,673.6 692.2,692.6 695.1,710.8 698.0,722.5 700.9,726.2 703.8,725.8 706.7,724.3 709.6,723.0 712.5,723.7 715.4,726.3 718.3,730.0 721.2,731.9 724.1,730.8 727.0,727.1 729.9,721.1 732.8,714.3 735.7,707.3 738.6,701.4 741.5,697.4 744.4,694.5 747.3,694.6 750.2,697.6 753.1,701.4 756.0,703.1 758.9,698.2 761.8,693.5 764.7,687.2 767.6,681.9 770.5,672.8 773.4,666.1 776.3,662.1 779.2,662.1 782.1,662.0 785.0,661.3 787.9,659.9 790.8,658.8 793.7,659.0 796.6,660.5 799.5,663.4 802.4,667.0 805.3,671.7 808.2,675.6 811.1,677.5 814.0,673.2 816.9,666.4 819.8,659.4 822.7,658.3 825.6,661.3 828.5,667.1 831.4,672.0 834.3,677.6 837.2,686.6 840.1,700.6 843.0,711.1 845.9,714.8 848.8,712.6 851.7,713.4 854.6,716.5 857.5,716.9 860.4,711.2 863.3,702.5 866.2,696.1 869.1,692.8 872.0,689.8 874.9,684.7 877.8,679.3 880.7,674.1 883.6,669.9 886.5,665.9 889.4,662.7 892.3,660.8 895.2,661.5 898.1,663.7 901.0,665.6 903.9,665.4 906.8,664.2 909.7,664.0 912.6,665.6 915.5,670.1 918.4,676.8 921.3,683.6 924.2,686.4 927.1,688.5 930.0,694.6 932.9,707.6 935.8,718.0 938.7,722.0 941.6,718.4 944.5,716.8 947.4,714.4 950.3,715.2 953.2,715.7 956.1,719.9 959.0,725.2 961.9,729.6 964.8,732.5 967.7,733.2 970.6,733.8 973.5,734.4" fill="none" stroke="#d8262e" stroke-width="1.1" stroke-linejoin="round"/>
<polyline points="4.9,822.8 7.7,827.0 10.9,829.2 14.1,827.4 19.2,825.3 22.8,822.5 26.9,824.4 31.8,827.0 34.6,817.4 37.8,813.3 40.7,811.2 43.8,816.4 46.7,807.4 49.3,807.1 52.8,799.5 56.1,804.3 59.2,808.4 64.7,800.5 67.6,806.5 76.8,796.6 80.0,814.6 83.0,813.5 86.1,816.4 89.0,811.0 92.2,812.3 95.0,812.9 98.0,831.2 101.2,828.3 104.0,823.2 106.9,827.0 109.9,813.8 113.0,814.8 115.9,818.7 119.1,829.9 122.3,822.5 125.1,825.0 128.2,814.2 131.4,816.7 134.2,822.8 137.8,818.0 141.0,816.4 144.0,818.9 146.5,827.0 149.3,822.5 152.2,815.5 155.5,820.0 158.9,820.0 162.1,821.6 164.4,803.9 167.3,793.7 170.5,791.1 173.4,791.1 176.2,789.9 178.8,787.3 182.0,786.4 184.6,787.9 188.4,791.8 191.6,813.3 194.8,802.7 197.6,816.7 200.6,817.6 203.8,812.3 206.3,813.3 209.5,808.4 212.7,797.5 215.7,800.7 219.1,818.7 222.1,836.0 224.9,840.7 228.7,836.6 233.2,834.0 237.1,836.9 240.0,817.6 242.2,818.4 246.0,809.4 249.0,820.0 251.9,810.7 255.1,809.1 257.9,808.2 260.9,822.8 264.1,811.6 269.9,797.5 273.3,811.0 276.3,814.2 279.2,813.5 282.0,821.2 284.8,830.2 288.2,833.4 291.2,827.6 294.2,830.8 297.4,834.7 300.2,828.3 303.5,832.5 306.4,827.0 309.2,816.4 312.8,817.4 315.3,825.1 318.1,822.5 321.1,821.0 324.3,828.9 327.5,828.3 330.7,830.8 333.9,839.8 336.8,835.3 339.7,821.2 342.2,818.7 345.4,818.4 348.6,814.8 351.8,810.3 354.8,815.9 357.6,814.6 360.1,822.5 363.3,832.1 366.5,831.7 369.7,837.2 372.7,839.8 376.2,831.2 378.6,834.0 380.8,836.0 384.0,839.8 387.6,844.3 390.6,832.8 394.0,832.1 396.5,827.6 399.3,818.7 402.5,814.8 405.5,819.3 408.6,807.8 412.1,803.9 417.9,801.0 423.7,810.7 426.9,815.9 430.1,821.2 433.3,818.4 436.5,813.3 442.2,808.2 445.2,815.1 448.0,807.8 451.8,807.1 454.4,805.2 457.2,800.7 460.2,816.1 463.4,828.9 466.2,823.2 469.5,826.4 472.1,818.4 474.9,817.4 478.5,806.9 484.5,809.4 487.1,806.5 490.3,793.7 492.8,792.8 496.7,787.7 500.5,785.1 508.3,784.3 511.5,793.1 514.1,793.3 517.3,787.9 520.5,793.3 523.7,786.0 526.9,785.4 532.0,784.7 535.9,782.8 539.1,781.3 541.6,781.3 544.6,799.5 548.0,796.3 551.2,793.7 553.2,794.6 557.0,814.8 560.2,823.8 562.8,834.0 565.6,820.0 569.2,823.8 574.5,810.3 577.5,817.4 580.4,825.1 584.3,829.6 586.5,843.0 589.7,847.5 592.9,844.9 595.8,838.5 599.9,841.7 605.0,843.6 608.6,835.3 612.1,830.8 614.6,830.2 617.6,820.6 620.4,816.4 623.6,817.1 626.5,821.0 628.8,816.1 632.0,810.7 635.2,820.6 637.8,819.9 640.6,814.2 644.0,816.4 647.0,823.5 650.4,829.2 653.2,821.2 656.1,824.4 659.3,817.1 662.8,810.0 665.7,804.3 668.5,801.8 671.4,806.9 674.3,806.5 677.3,812.0 680.1,807.1 686.2,797.5 689.0,811.0 692.2,830.5 695.4,837.9 699.3,835.6 702.5,836.6 705.0,837.9 707.6,827.6 711.5,830.8 715.9,834.0 718.5,837.9 721.1,842.4 723.0,842.4 725.2,834.7 728.7,830.2 731.9,826.4 735.1,823.5 738.3,826.4 740.9,821.5 744.1,821.0 747.3,823.8 749.9,828.9 752.8,835.1 755.8,827.0 759.0,828.3 762.2,821.9 765.4,823.8 768.6,814.8 771.5,810.7 774.3,809.7 777.2,818.7 780.1,812.9 783.6,810.3 785.9,811.6 788.4,807.1 791.6,802.0 794.8,807.1 798.0,808.4 801.2,809.4 803.8,812.9 807.0,825.1 809.9,812.5 812.8,812.0 816.0,804.6 819.2,801.4 822.4,799.2 825.6,804.3 828.1,803.9 831.3,811.6 834.3,814.2 837.1,830.8 840.3,844.5 843.2,832.8 846.3,822.8 849.3,830.5 852.5,838.5 855.7,830.2 858.9,822.5 862.1,816.7 864.6,818.7 867.2,823.8 870.4,816.1 873.6,814.8 877.1,814.1 879.7,817.5 882.8,813.5 885.9,809.4 888.5,807.1 891.6,805.8 894.7,811.5 897.8,817.9 900.4,810.9 903.0,806.3 906.1,804.2 910.2,803.7 912.8,805.2 915.4,817.7 919.1,822.3 922.2,814.6 924.8,808.4 927.3,821.8 930.5,831.2 933.6,828.6 936.7,822.9 939.8,831.2 942.9,819.8 946.0,831.2 948.8,823.4 951.7,831.7 954.8,837.4 957.9,841.0 960.8,838.4 964.1,843.1 967.0,844.8 969.8,843.1 972.9,844.8" fill="none" stroke="#1a1a1a" stroke-width="1.3" stroke-linejoin="round"/>
<line x1="379.0" y1="34" x2="380.5" y2="855" stroke="#d20000" stroke-width="2.1" stroke-dasharray="6 2"/>
<line x1="585.0" y1="32" x2="586.5" y2="855" stroke="#d20000" stroke-width="2.1" stroke-dasharray="6 2"/>
<line x1="697.0" y1="31" x2="698.5" y2="855" stroke="#d20000" stroke-width="2.1" stroke-dasharray="6 2"/>
<line x1="839.0" y1="31" x2="840.5" y2="855" stroke="#d20000" stroke-width="2.1" stroke-dasharray="6 2"/>
<ellipse cx="376.6" cy="723.0" rx="29.8" ry="16.1" fill="none" stroke="#ec0000" stroke-width="2.9"/>
<ellipse cx="593.4" cy="723.8" rx="29.8" ry="16.1" fill="none" stroke="#ec0000" stroke-width="2.9"/>
<ellipse cx="717.7" cy="724.8" rx="29.8" ry="16.1" fill="none" stroke="#ec0000" stroke-width="2.9"/>
<ellipse cx="848.2" cy="723.5" rx="29.8" ry="16.1" fill="none" stroke="#ec0000" stroke-width="2.9"/>
<ellipse cx="377.5" cy="838.8" rx="29.8" ry="16.1" fill="none" stroke="#ec0000" stroke-width="2.9"/>
<ellipse cx="594.4" cy="839.8" rx="29.8" ry="16.1" fill="none" stroke="#ec0000" stroke-width="2.9"/>
<ellipse cx="718.4" cy="840.5" rx="29.8" ry="16.1" fill="none" stroke="#ec0000" stroke-width="2.9"/>
<ellipse cx="849.4" cy="840.8" rx="29.8" ry="16.1" fill="none" stroke="#ec0000" stroke-width="2.9"/>
<line x1="389.1" y1="331.4" x2="409.1" y2="381.2" stroke="#ec0000" stroke-width="1.4"/><polygon points="413.6,392.3 403.6,383.4 414.7,378.9" fill="#ec0000"/>
<line x1="601.3" y1="117.1" x2="620.8" y2="166.8" stroke="#ec0000" stroke-width="1.4"/><polygon points="625.2,178.0 615.2,169.0 626.4,164.6" fill="#ec0000"/>
<line x1="711.3" y1="203.4" x2="730.7" y2="252.9" stroke="#ec0000" stroke-width="1.4"/><polygon points="735.1,264.1 725.1,255.1 736.3,250.7" fill="#ec0000"/>
<line x1="847.3" y1="234.1" x2="866.9" y2="284.1" stroke="#ec0000" stroke-width="1.4"/><polygon points="871.3,295.3 861.3,286.3 872.5,281.9" fill="#ec0000"/>
<text x="5.9" y="14.8" class="tt" textLength="75.8" lengthAdjust="spacingAndGlyphs">ThyssenKrupp</text>
<text x="6.6" y="509" class="pl" textLength="47.3" lengthAdjust="spacingAndGlyphs">Volumen</text>
<path d="M61.6,499.5 L69.6,507.5 M69.6,499.5 L61.6,507.5" stroke="#4d4d4d" stroke-width="3.4" stroke-linecap="round" fill="none"/>
<text x="6.6" y="633.8" class="pl" textLength="95.6" lengthAdjust="spacingAndGlyphs">Stochastic (14, 3)</text>
<path d="M118.00,629.60 L120.30,629.60 M116.68,632.78 L118.31,634.41 M113.50,634.10 L113.50,636.40 M110.32,632.78 L108.69,634.41 M109.00,629.60 L106.70,629.60 M110.32,626.42 L108.69,624.79 M113.50,625.10 L113.50,622.80 M116.68,626.42 L118.31,624.79" stroke="#4d4d4d" stroke-width="1.8" stroke-linecap="butt" fill="none"/><circle cx="113.5" cy="629.6" r="3.7" fill="none" stroke="#4d4d4d" stroke-width="2.1"/>
<path d="M126.8,626.1 L134.8,634.1 M134.8,626.1 L126.8,634.1" stroke="#4d4d4d" stroke-width="3.4" stroke-linecap="round" fill="none"/>
<text x="6.6" y="760" class="pl" textLength="184.6" lengthAdjust="spacingAndGlyphs">Relative Strength Index (RSI) (14)</text>
<path d="M208.10,756.30 L210.40,756.30 M206.78,759.48 L208.41,761.11 M203.60,760.80 L203.60,763.10 M200.42,759.48 L198.79,761.11 M199.10,756.30 L196.80,756.30 M200.42,753.12 L198.79,751.49 M203.60,751.80 L203.60,749.50 M206.78,753.12 L208.41,751.49" stroke="#4d4d4d" stroke-width="1.8" stroke-linecap="butt" fill="none"/><circle cx="203.6" cy="756.3" r="3.7" fill="none" stroke="#4d4d4d" stroke-width="2.1"/>
<path d="M217.1,752.6 L225.1,760.6 M225.1,752.6 L217.1,760.6" stroke="#4d4d4d" stroke-width="3.4" stroke-linecap="round" fill="none"/>
</svg>
</body></html>
